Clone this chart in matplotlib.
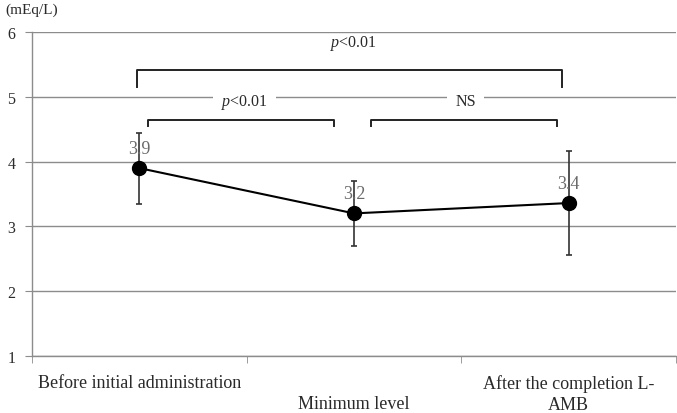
import numpy as np
import matplotlib
matplotlib.use("Agg")
import matplotlib.pyplot as plt

plt.rcParams['font.family'] = ['Liberation Serif', 'DejaVu Serif']
plt.rcParams['mathtext.fontset'] = 'custom'
plt.rcParams['mathtext.it'] = 'Liberation Serif:italic'
plt.rcParams['mathtext.rm'] = 'Liberation Serif'

# data
categories = ["Before initial administration", "\nMinimum level", "After the completion L-\nAMB"]
means = [3.9, 3.2, 3.36]
mean_labels = ["3.9", "3.2", "3.4"]
sd = [0.55, 0.5, 0.8]
y_ticks = [1, 2, 3, 4, 5, 6]

# significance brackets: (x_left, x_right, y_top, y_foot, label, label_x, label_y, white box)
brackets = [
    (-0.013, 1.968, 5.41, 5.15, r"$p$<0.01", 1.0, 5.84, False),
    (0.041, 0.906, 4.65, 4.55, r"$p$<0.01", 0.49, 4.93, True),
    (1.08, 1.948, 4.65, 4.55, "NS", 1.52, 4.93, True),
]

grid_col = "#8c8c8c"
txt_col = "#2a2a2a"

fig = plt.figure(figsize=(6.77, 4.14), dpi=100)
ax = fig.add_axes([0.0473, 0.1384, 0.9512, 0.7812])

x = np.arange(len(means))
ax.errorbar(x, means, yerr=sd, fmt='none', ecolor="#333333", elinewidth=1.2,
            capsize=2.5, capthick=1.2, zorder=3)
ax.plot(x, means, color="black", lw=1.5, marker='o', markersize=10,
        markerfacecolor="black", markeredgecolor="black", zorder=4)

for xi, m, lab in zip(x, means, mean_labels):
    ax.annotate(lab, (xi, m), xytext=(0, 14), textcoords="offset points",
                ha="center", va="center", fontsize=13, color="#6a6a6a", zorder=5)

for xl, xr, yt, yf, lab, lx, ly, box in brackets:
    ax.plot([xl, xl, xr, xr], [yf, yt, yt, yf], color="#222222", lw=1.4, zorder=3)
    bb = dict(fc="white", ec="none", pad=6) if box else None
    ax.text(lx, ly, lab, ha="center", va="center", fontsize=11.5, color=txt_col,
            bbox=bb, zorder=4)

ax.set_xlim(-0.5, 2.5)
ax.set_ylim(1, 6)
ax.set_yticks(y_ticks)
ax.yaxis.grid(True, color=grid_col, lw=1.0)
ax.set_axisbelow(True)

ax.set_xticks(x)
ax.set_xticklabels(categories, linespacing=1.3, va="top")
ax.set_xticks([-0.5, 0.5, 1.5, 2.5], minor=True)
ax.tick_params(axis='x', which='major', length=0, pad=13, labelsize=13, labelcolor=txt_col)
ax.tick_params(axis='x', which='minor', length=5, color=grid_col, direction='out')
ax.tick_params(axis='y', length=5, color=grid_col, pad=7, labelsize=11.5, labelcolor=txt_col)

for s in ["top", "right"]:
    ax.spines[s].set_visible(False)
for s in ["left", "bottom"]:
    ax.spines[s].set_color(grid_col)
    ax.spines[s].set_linewidth(1.0)

fig.text(0.008, 0.975, "(mEq/L)", fontsize=11, color=txt_col,
         ha="left", va="center")

fig.savefig("out.png", dpi=100)
